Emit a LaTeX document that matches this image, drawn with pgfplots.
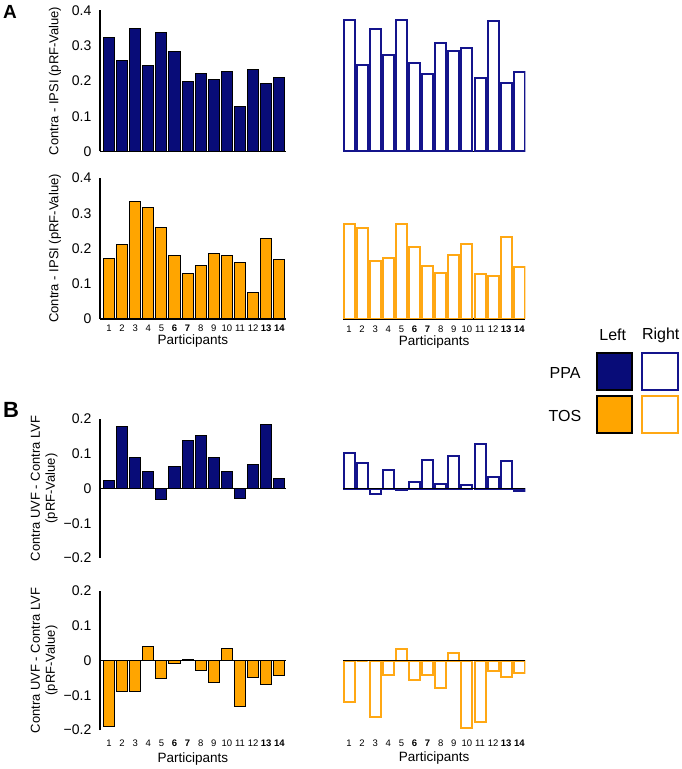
\documentclass[border=0pt]{standalone}
\usepackage{fontspec}
\setmainfont{Liberation Sans}
\usepackage{pgfplots}
\pgfplotsset{compat=1.18}
\definecolor{navy}{RGB}{8,12,120}
\definecolor{orng}{RGB}{255,165,0}
\definecolor{navyline}{RGB}{20,20,140}
\definecolor{orngline}{RGB}{255,168,20}

\pgfplotsset{
  base/.style={scale only axis, ybar, bar width=0.84,
    /pgf/number format/assume math mode=true,
    tick style={draw=none}, enlargelimits=false,
    xtick={1,...,14},
    yticklabel style={font=\fontsize{14}{16}\selectfont, xshift=-3pt},
    xticklabel style={font=\fontsize{9.5}{11}\selectfont, inner sep=1pt},
    xlabel style={font=\fontsize{13.5}{15}\selectfont, at={(axis description cs:0.5,0)}, anchor=center, inner sep=1pt},
    ylabel style={font=\fontsize{13}{15}\selectfont, anchor=center, align=center},
  },
  fixlines/.style={
    every outer x axis line/.append style={-, line width=1.2pt, black},
    every outer y axis line/.append style={-, line width=1.2pt, black},
    every inner x axis line/.append style={-, line width=1.2pt, black},
    every inner y axis line/.append style={-, line width=1.2pt, black}},
  hidex/.style={
    every outer x axis line/.append style={draw=none},
    every inner x axis line/.append style={draw=none}},
  leftp/.style={base, width=185.85pt, xmin=0.313, xmax=14.5},
  rightp/.style={base, width=182.35pt, xmin=0.54, xmax=14.46},
  arow/.style={height=141pt, ymin=0, ymax=0.4, ytick={0,0.1,0.2,0.3,0.4},
    yticklabels={0,0.1,0.2,0.3,0.4}},
  brow/.style={height=139pt, ymin=-0.2, ymax=0.2, ytick={-0.2,-0.1,0,0.1,0.2},
    yticklabels={−0.2,−0.1,0,0.1,0.2}},
  plabels/.style={xticklabels={1,2,3,4,5,\textbf{6},\textbf{7},8,9,10,11,12,\textbf{13},\textbf{14}}},
  leftbar/.style={draw=black, line width=1pt},
  rightbar/.style={fill=white, line width=2pt},
}

\begin{document}
\begin{tikzpicture}[x=1pt,y=1pt]
\useasboundingbox (0,0) rectangle (682,769);
\coordinate (pAL) at (100,617.5);
\coordinate (pAR) at (343,617.5);
\coordinate (pTL) at (100,450);
\coordinate (pTR) at (343,450);
\coordinate (pBL) at (100,211);
\coordinate (pBR) at (343,211);
\coordinate (pCL) at (100,39);
\coordinate (pCR) at (343,39);

% ---------- A, PPA left
\begin{axis}[leftp, arow, at={(pAL)}, anchor=south west,
  axis x line=bottom, axis y line=left, fixlines, xtick=\empty,
  ylabel={Contra - IPSI (pRF-Value)},
  ylabel style={at={(axis description cs:-0.242,0.5)}}]
\addplot[leftbar, fill=navy] coordinates {
(1,0.322) (2,0.257) (3,0.348) (4,0.244) (5,0.338) (6,0.284) (7,0.198)
(8,0.220) (9,0.203) (10,0.226) (11,0.127) (12,0.232) (13,0.192) (14,0.210)};
\end{axis}

% ---------- A, PPA right
\begin{axis}[rightp, arow, at={(pAR)}, anchor=south west,
  axis x line=bottom, axis y line=none, fixlines, xtick=\empty]
\addplot[rightbar, draw=navyline] coordinates {
(1,0.374) (2,0.244) (3,0.348) (4,0.274) (5,0.372) (6,0.252) (7,0.220)
(8,0.309) (9,0.286) (10,0.294) (11,0.208) (12,0.371) (13,0.195) (14,0.226)};
\end{axis}

% ---------- A, TOS left
\begin{axis}[leftp, arow, plabels, at={(pTL)}, anchor=south west,
  axis x line=bottom, axis y line=left, fixlines,
  xticklabel style={yshift=-3pt},
  ylabel={Contra - IPSI (pRF-Value)},
  ylabel style={at={(axis description cs:-0.242,0.5)}},
  xlabel={Participants}, xlabel style={yshift=-22pt}]
\addplot[leftbar, fill=orng] coordinates {
(1,0.172) (2,0.212) (3,0.334) (4,0.316) (5,0.259) (6,0.179) (7,0.128)
(8,0.152) (9,0.185) (10,0.180) (11,0.160) (12,0.074) (13,0.229) (14,0.168)};
\end{axis}

% ---------- A, TOS right
\begin{axis}[rightp, arow, plabels, at={(pTR)}, anchor=south west,
  axis x line=bottom, axis y line=none, fixlines,
  xticklabel style={yshift=-3.5pt},
  xlabel={Participants}, xlabel style={yshift=-23pt}]
\addplot[rightbar, draw=orngline] coordinates {
(1,0.269) (2,0.257) (3,0.164) (4,0.173) (5,0.270) (6,0.203) (7,0.150)
(8,0.130) (9,0.182) (10,0.214) (11,0.128) (12,0.122) (13,0.234) (14,0.148)};
\end{axis}

% ---------- B, PPA left
\begin{axis}[leftp, brow, at={(pBL)}, anchor=south west,
  axis x line=bottom, axis y line=left, fixlines, hidex, xtick=\empty,
  ylabel={Contra UVF - Contra LVF\\(pRF-Value)},
  ylabel style={at={(axis description cs:-0.30,0.5)}}]
\addplot[leftbar, fill=navy] coordinates {
(1,0.024) (2,0.179) (3,0.090) (4,0.050) (5,-0.033) (6,0.064) (7,0.138)
(8,0.152) (9,0.089) (10,0.050) (11,-0.030) (12,0.068) (13,0.185) (14,0.028)};
\draw[line width=1.2pt, black] (axis cs:0.313,0) -- (axis cs:14.5,0);
\end{axis}

% ---------- B, PPA right
\begin{axis}[rightp, brow, at={(pBR)}, anchor=south west,
  axis x line=bottom, axis y line=none, fixlines, hidex, xtick=\empty]
\addplot[rightbar, draw=navyline] coordinates {
(1,0.101) (2,0.073) (3,-0.016) (4,0.052) (5,-0.004) (6,0.019) (7,0.081)
(8,0.013) (9,0.094) (10,0.010) (11,0.129) (12,0.033) (13,0.078) (14,-0.008)};
\draw[line width=1.2pt, black] (axis cs:0.54,0) -- (axis cs:14.46,0);
\end{axis}

% ---------- B, TOS left
\begin{axis}[leftp, brow, plabels, at={(pCL)}, anchor=south west,
  axis x line=bottom, axis y line=left, fixlines, hidex,
  xticklabel style={yshift=-6.5pt},
  ylabel={Contra UVF - Contra LVF\\(pRF-Value)},
  ylabel style={at={(axis description cs:-0.30,0.5)}},
  xlabel={Participants}, xlabel style={yshift=-29pt}]
\addplot[leftbar, fill=orng] coordinates {
(1,-0.189) (2,-0.089) (3,-0.089) (4,0.040) (5,-0.052) (6,-0.008) (7,0.002)
(8,-0.028) (9,-0.062) (10,0.034) (11,-0.131) (12,-0.050) (13,-0.070) (14,-0.042)};
\draw[line width=1.2pt, black] (axis cs:0.313,0) -- (axis cs:14.5,0);
\end{axis}

% ---------- B, TOS right
\begin{axis}[rightp, brow, plabels, at={(pCR)}, anchor=south west,
  axis x line=bottom, axis y line=none, fixlines, hidex,
  xticklabel style={yshift=-6.5pt},
  xlabel={Participants}, xlabel style={yshift=-28pt}]
\addplot[rightbar, draw=orngline] coordinates {
(1,-0.120) (2,0) (3,-0.163) (4,-0.043) (5,0.033) (6,-0.055) (7,-0.041)
(8,-0.080) (9,0.022) (10,-0.195) (11,-0.176) (12,-0.031) (13,-0.048) (14,-0.035)};
\draw[line width=1.2pt, black] (axis cs:0.54,0) -- (axis cs:14.46,0);
\end{axis}

% ---------- panel letters
\node[font=\fontsize{19}{21}\selectfont\bfseries] at (10,757) {A};
\node[font=\fontsize{22}{24}\selectfont\bfseries] at (11,359) {B};

% ---------- legend
\node[font=\fontsize{16}{18}\selectfont] at (612.7,434) {Left};
\node[font=\fontsize{16}{18}\selectfont] at (660.7,434) {Right};
\node[font=\fontsize{16}{18}\selectfont] at (565,395.7) {PPA};
\node[font=\fontsize{16}{18}\selectfont] at (565,353) {TOS};
\filldraw[fill=navy, draw=black, line width=2pt] (597,379) rectangle (632,415.5);
\filldraw[fill=white, draw=navyline, line width=2pt] (641.5,379) rectangle (677.5,415.5);
\filldraw[fill=orng, draw=black, line width=2pt] (597,336) rectangle (632,372.5);
\filldraw[fill=white, draw=orngline, line width=2pt] (641.5,336) rectangle (677.5,372.5);
\end{tikzpicture}
\end{document}
